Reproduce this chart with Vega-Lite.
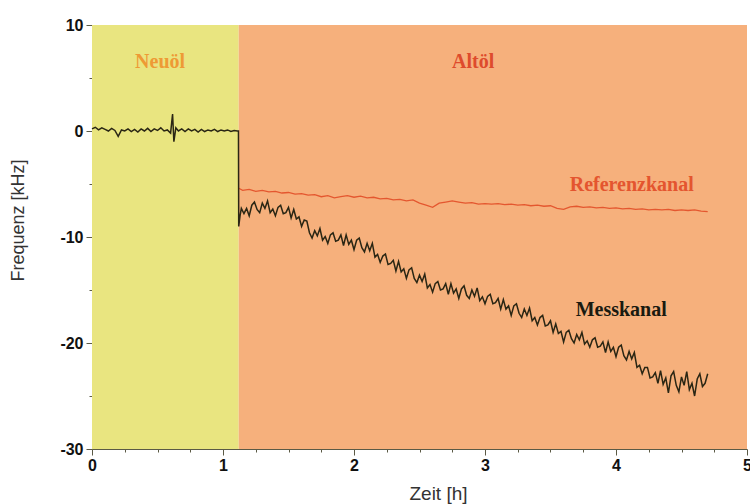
{
  "$schema": "https://vega.github.io/schema/vega-lite/v6.json",
  "width": 655,
  "height": 424,
  "autosize": {"type": "none"},
  "padding": {"left": 92, "top": 25, "right": 3, "bottom": 55},
  "background": "white",
  "config": {"view": {"stroke": null}},
  "datasets": {
    "phases": [
      {"start": 0, "end": 1.12, "phase": "Neuöl"},
      {"start": 1.12, "end": 5, "phase": "Altöl"}
    ],
    "mess": [
      {"t": 0, "f": 0.2}, {"t": 0.025, "f": 0.35}, {"t": 0.05, "f": 0.1}, {"t": 0.075, "f": 0.3}, {"t": 0.1, "f": 0.15},
      {"t": 0.125, "f": 0.0}, {"t": 0.15, "f": 0.25}, {"t": 0.175, "f": 0.05}, {"t": 0.2, "f": -0.5}, {"t": 0.225, "f": 0.1},
      {"t": 0.25, "f": 0.0}, {"t": 0.275, "f": 0.2}, {"t": 0.3, "f": -0.05}, {"t": 0.325, "f": 0.15}, {"t": 0.35, "f": -0.1},
      {"t": 0.375, "f": 0.2}, {"t": 0.4, "f": 0.0}, {"t": 0.425, "f": 0.25}, {"t": 0.45, "f": -0.05}, {"t": 0.475, "f": 0.2},
      {"t": 0.5, "f": 0.05}, {"t": 0.525, "f": 0.3}, {"t": 0.55, "f": 0.0}, {"t": 0.575, "f": 0.1}, {"t": 0.6, "f": -0.2},
      {"t": 0.615, "f": 1.6}, {"t": 0.625, "f": -1.0}, {"t": 0.64, "f": 0.3}, {"t": 0.66, "f": 0.0}, {"t": 0.685, "f": 0.2},
      {"t": 0.71, "f": -0.05}, {"t": 0.735, "f": 0.2}, {"t": 0.76, "f": 0.0}, {"t": 0.785, "f": 0.15}, {"t": 0.81, "f": -0.1},
      {"t": 0.835, "f": 0.15}, {"t": 0.86, "f": -0.05}, {"t": 0.885, "f": 0.1}, {"t": 0.91, "f": 0.0}, {"t": 0.935, "f": 0.15},
      {"t": 0.96, "f": -0.05}, {"t": 0.985, "f": 0.1}, {"t": 1.01, "f": 0.0}, {"t": 1.035, "f": 0.1}, {"t": 1.06, "f": -0.05},
      {"t": 1.085, "f": 0.05}, {"t": 1.11, "f": 0.0}, {"t": 1.118, "f": 0.0}, {"t": 1.12, "f": -9.0}, {"t": 1.13, "f": -8.0},
      {"t": 1.14, "f": -7.3}, {"t": 1.16, "f": -7.8}, {"t": 1.18, "f": -7.3}, {"t": 1.2, "f": -8.0}, {"t": 1.22, "f": -7.0},
      {"t": 1.24, "f": -6.7}, {"t": 1.26, "f": -7.4}, {"t": 1.28, "f": -7.7}, {"t": 1.3, "f": -6.8}, {"t": 1.32, "f": -7.3},
      {"t": 1.34, "f": -6.6}, {"t": 1.36, "f": -7.7}, {"t": 1.38, "f": -7.36}, {"t": 1.4, "f": -8.0}, {"t": 1.42, "f": -7.2},
      {"t": 1.44, "f": -7.0}, {"t": 1.46, "f": -7.8}, {"t": 1.48, "f": -7.7}, {"t": 1.5, "f": -7.2}, {"t": 1.52, "f": -8.2},
      {"t": 1.54, "f": -7.4}, {"t": 1.56, "f": -8.3}, {"t": 1.58, "f": -8.1}, {"t": 1.6, "f": -9.0}, {"t": 1.62, "f": -8.4},
      {"t": 1.64, "f": -8.5}, {"t": 1.66, "f": -9.6}, {"t": 1.68, "f": -10.1}, {"t": 1.7, "f": -9.4}, {"t": 1.72, "f": -9.9},
      {"t": 1.74, "f": -9.2}, {"t": 1.76, "f": -10.3}, {"t": 1.78, "f": -9.96}, {"t": 1.8, "f": -10.6}, {"t": 1.82, "f": -9.8},
      {"t": 1.84, "f": -9.6}, {"t": 1.86, "f": -10.4}, {"t": 1.88, "f": -10.3}, {"t": 1.9, "f": -9.8}, {"t": 1.92, "f": -10.8},
      {"t": 1.94, "f": -9.8}, {"t": 1.96, "f": -10.7}, {"t": 1.98, "f": -10.3}, {"t": 2.0, "f": -11.2}, {"t": 2.02, "f": -10.3},
      {"t": 2.04, "f": -10.1}, {"t": 2.06, "f": -11.0}, {"t": 2.08, "f": -11.4}, {"t": 2.1, "f": -10.6}, {"t": 2.12, "f": -11.3},
      {"t": 2.14, "f": -10.6}, {"t": 2.16, "f": -11.9}, {"t": 2.18, "f": -11.64}, {"t": 2.2, "f": -12.4}, {"t": 2.22, "f": -11.8},
      {"t": 2.24, "f": -11.6}, {"t": 2.26, "f": -12.6}, {"t": 2.28, "f": -12.5}, {"t": 2.3, "f": -12.2}, {"t": 2.32, "f": -13.2},
      {"t": 2.34, "f": -12.3}, {"t": 2.36, "f": -13.3}, {"t": 2.38, "f": -13.0}, {"t": 2.4, "f": -13.9}, {"t": 2.42, "f": -13.1},
      {"t": 2.44, "f": -12.9}, {"t": 2.46, "f": -13.9}, {"t": 2.48, "f": -14.3}, {"t": 2.5, "f": -13.6}, {"t": 2.52, "f": -14.2},
      {"t": 2.54, "f": -13.5}, {"t": 2.56, "f": -14.8}, {"t": 2.58, "f": -14.48}, {"t": 2.6, "f": -15.2}, {"t": 2.62, "f": -14.4},
      {"t": 2.64, "f": -14.2}, {"t": 2.66, "f": -15.0}, {"t": 2.68, "f": -14.9}, {"t": 2.7, "f": -14.4}, {"t": 2.72, "f": -15.4},
      {"t": 2.74, "f": -14.4}, {"t": 2.76, "f": -15.3}, {"t": 2.78, "f": -14.9}, {"t": 2.8, "f": -15.8}, {"t": 2.82, "f": -14.9},
      {"t": 2.84, "f": -14.6}, {"t": 2.86, "f": -15.5}, {"t": 2.88, "f": -15.8}, {"t": 2.9, "f": -15.0}, {"t": 2.92, "f": -15.6},
      {"t": 2.94, "f": -14.8}, {"t": 2.96, "f": -16.0}, {"t": 2.98, "f": -15.64}, {"t": 3.0, "f": -16.3}, {"t": 3.02, "f": -15.6},
      {"t": 3.04, "f": -15.4}, {"t": 3.06, "f": -16.3}, {"t": 3.08, "f": -16.2}, {"t": 3.1, "f": -15.8}, {"t": 3.12, "f": -16.8},
      {"t": 3.14, "f": -15.9}, {"t": 3.16, "f": -16.8}, {"t": 3.18, "f": -16.5}, {"t": 3.2, "f": -17.4}, {"t": 3.22, "f": -16.5},
      {"t": 3.24, "f": -16.3}, {"t": 3.26, "f": -17.2}, {"t": 3.28, "f": -17.6}, {"t": 3.3, "f": -16.8}, {"t": 3.32, "f": -17.4},
      {"t": 3.34, "f": -16.7}, {"t": 3.36, "f": -17.9}, {"t": 3.38, "f": -17.6}, {"t": 3.4, "f": -18.3}, {"t": 3.42, "f": -17.6},
      {"t": 3.44, "f": -17.4}, {"t": 3.46, "f": -18.4}, {"t": 3.48, "f": -18.3}, {"t": 3.5, "f": -17.9}, {"t": 3.52, "f": -19.0},
      {"t": 3.54, "f": -18.2}, {"t": 3.56, "f": -19.1}, {"t": 3.58, "f": -18.9}, {"t": 3.6, "f": -19.9}, {"t": 3.62, "f": -19.0},
      {"t": 3.64, "f": -18.8}, {"t": 3.66, "f": -19.6}, {"t": 3.68, "f": -20.0}, {"t": 3.7, "f": -19.2}, {"t": 3.72, "f": -19.7},
      {"t": 3.74, "f": -19.0}, {"t": 3.76, "f": -20.1}, {"t": 3.78, "f": -19.8}, {"t": 3.8, "f": -20.4}, {"t": 3.82, "f": -19.7},
      {"t": 3.84, "f": -19.5}, {"t": 3.86, "f": -20.4}, {"t": 3.88, "f": -20.3}, {"t": 3.9, "f": -19.9}, {"t": 3.92, "f": -20.9},
      {"t": 3.94, "f": -19.9}, {"t": 3.96, "f": -20.8}, {"t": 3.98, "f": -20.4}, {"t": 4.0, "f": -21.3}, {"t": 4.02, "f": -20.4},
      {"t": 4.04, "f": -20.2}, {"t": 4.06, "f": -21.2}, {"t": 4.08, "f": -21.6}, {"t": 4.1, "f": -20.8}, {"t": 4.12, "f": -21.5},
      {"t": 4.14, "f": -20.9}, {"t": 4.16, "f": -22.3}, {"t": 4.18, "f": -22.1}, {"t": 4.2, "f": -22.9}, {"t": 4.22, "f": -22.3},
      {"t": 4.24, "f": -22.3}, {"t": 4.26, "f": -23.3}, {"t": 4.28, "f": -23.2}, {"t": 4.3, "f": -22.8}, {"t": 4.32, "f": -23.8},
      {"t": 4.34, "f": -22.6}, {"t": 4.36, "f": -23.9}, {"t": 4.38, "f": -23.3}, {"t": 4.4, "f": -24.7}, {"t": 4.42, "f": -23.1},
      {"t": 4.44, "f": -22.7}, {"t": 4.46, "f": -24.0}, {"t": 4.48, "f": -24.6}, {"t": 4.5, "f": -23.2}, {"t": 4.52, "f": -24.0},
      {"t": 4.54, "f": -22.7}, {"t": 4.56, "f": -24.4}, {"t": 4.58, "f": -23.8}, {"t": 4.6, "f": -25.0}, {"t": 4.62, "f": -23.4},
      {"t": 4.64, "f": -22.9}, {"t": 4.66, "f": -24.1}, {"t": 4.68, "f": -23.8}, {"t": 4.7, "f": -22.9}
    ],
    "ref": [
      {"t": 1.12, "f": -5.4}, {"t": 1.15, "f": -5.6}, {"t": 1.2, "f": -5.5}, {"t": 1.25, "f": -5.7}, {"t": 1.3, "f": -5.6},
      {"t": 1.35, "f": -5.75}, {"t": 1.4, "f": -5.7}, {"t": 1.45, "f": -5.85}, {"t": 1.5, "f": -5.8}, {"t": 1.55, "f": -5.95},
      {"t": 1.6, "f": -5.9}, {"t": 1.65, "f": -6.05}, {"t": 1.7, "f": -6.0}, {"t": 1.75, "f": -6.2}, {"t": 1.8, "f": -6.1},
      {"t": 1.85, "f": -6.3}, {"t": 1.9, "f": -6.2}, {"t": 1.95, "f": -6.1}, {"t": 2.0, "f": -6.25}, {"t": 2.05, "f": -6.15},
      {"t": 2.1, "f": -6.3}, {"t": 2.15, "f": -6.25}, {"t": 2.2, "f": -6.4}, {"t": 2.25, "f": -6.35}, {"t": 2.3, "f": -6.5},
      {"t": 2.35, "f": -6.45}, {"t": 2.4, "f": -6.6}, {"t": 2.45, "f": -6.5}, {"t": 2.5, "f": -6.8}, {"t": 2.55, "f": -7.0},
      {"t": 2.6, "f": -7.2}, {"t": 2.65, "f": -6.8}, {"t": 2.7, "f": -6.7}, {"t": 2.75, "f": -6.6}, {"t": 2.8, "f": -6.7},
      {"t": 2.85, "f": -6.8}, {"t": 2.9, "f": -6.75}, {"t": 2.95, "f": -6.9}, {"t": 3.0, "f": -6.85}, {"t": 3.05, "f": -6.9},
      {"t": 3.1, "f": -6.85}, {"t": 3.15, "f": -6.95}, {"t": 3.2, "f": -6.9}, {"t": 3.25, "f": -7.0}, {"t": 3.3, "f": -6.95},
      {"t": 3.35, "f": -7.05}, {"t": 3.4, "f": -7.0}, {"t": 3.45, "f": -7.1}, {"t": 3.5, "f": -7.05}, {"t": 3.55, "f": -7.3},
      {"t": 3.6, "f": -7.4}, {"t": 3.65, "f": -7.15}, {"t": 3.7, "f": -7.1}, {"t": 3.75, "f": -7.2}, {"t": 3.8, "f": -7.15},
      {"t": 3.85, "f": -7.25}, {"t": 3.9, "f": -7.2}, {"t": 3.95, "f": -7.3}, {"t": 4.0, "f": -7.25}, {"t": 4.05, "f": -7.35},
      {"t": 4.1, "f": -7.3}, {"t": 4.15, "f": -7.4}, {"t": 4.2, "f": -7.35}, {"t": 4.25, "f": -7.45}, {"t": 4.3, "f": -7.4},
      {"t": 4.35, "f": -7.45}, {"t": 4.4, "f": -7.4}, {"t": 4.45, "f": -7.5}, {"t": 4.5, "f": -7.45}, {"t": 4.55, "f": -7.5},
      {"t": 4.6, "f": -7.45}, {"t": 4.65, "f": -7.55}, {"t": 4.7, "f": -7.6}
    ],
    "labels": [
      {"t": 0.52, "f": 6.5, "text": "Neuöl", "kind": "Neuöl"},
      {"t": 2.91, "f": 6.5, "text": "Altöl", "kind": "Altöl"},
      {"t": 4.12, "f": -5.1, "text": "Referenzkanal", "kind": "Referenzkanal"},
      {"t": 4.04, "f": -16.9, "text": "Messkanal", "kind": "Messkanal"}
    ]
  },
  "encoding": {
    "x": {
      "type": "quantitative",
      "scale": {"domain": [0, 5], "nice": false, "zero": false},
      "axis": {
        "title": "Zeit [h]",
        "values": [0, 0.25, 0.5, 0.75, 1, 1.25, 1.5, 1.75, 2, 2.25, 2.5, 2.75, 3, 3.25, 3.5, 3.75, 4, 4.25, 4.5, 4.75, 5],
        "labelExpr": "datum.value % 1 === 0 ? '' + datum.value : ''",
        "tickSize": {"condition": {"test": "datum.value % 1 === 0", "value": 6}, "value": 3},
        "grid": false,
        "domainColor": "#5b5a45",
        "tickColor": "#5b5a45",
        "labelFont": "Liberation Sans",
        "labelFontWeight": "bold",
        "labelFontSize": 16,
        "labelColor": "#111",
        "labelPadding": 2,
        "labelFlush": false,
        "labelOverlap": false,
        "titleFont": "Liberation Sans",
        "titleFontWeight": "normal",
        "titleFontSize": 19,
        "titleColor": "#333",
        "titleX": 346,
        "titleY": 44,
        "titleBaseline": "middle",
        "titleAlign": "center"
      }
    },
    "y": {
      "type": "quantitative",
      "scale": {"domain": [-30, 10], "nice": false, "zero": false},
      "axis": {
        "title": "Frequenz [kHz]",
        "values": [-30, -25, -20, -15, -10, -5, 0, 5, 10],
        "labelExpr": "datum.value % 10 === 0 ? '' + datum.value : ''",
        "tickSize": {"condition": {"test": "datum.value % 10 === 0", "value": 6}, "value": 3},
        "grid": false,
        "domainColor": "#5b5a45",
        "tickColor": "#5b5a45",
        "labelFont": "Liberation Sans",
        "labelFontWeight": "bold",
        "labelFontSize": 16,
        "labelColor": "#111",
        "labelPadding": 3,
        "labelFlush": false,
        "labelOverlap": false,
        "titleFont": "Liberation Sans",
        "titleFontWeight": "normal",
        "titleFontSize": 18,
        "titleColor": "#333",
        "titleAngle": -90,
        "titleX": -74,
        "titleY": 195,
        "titleBaseline": "middle",
        "titleAlign": "center"
      }
    }
  },
  "layer": [
    {
      "data": {"name": "phases"},
      "mark": {"type": "rect", "opacity": 1},
      "encoding": {
        "x": {"field": "start", "type": "quantitative"},
        "x2": {"field": "end"},
        "color": {
          "field": "phase",
          "type": "nominal",
          "scale": {"domain": ["Neuöl", "Altöl"], "range": ["#e9e580", "#f6b07c"]},
          "legend": null
        }
      }
    },
    {
      "data": {"name": "ref"},
      "mark": {"type": "line", "color": "#e4572f", "strokeWidth": 1.3, "interpolate": "linear"},
      "encoding": {
        "x": {"field": "t", "type": "quantitative"},
        "y": {"field": "f", "type": "quantitative"}
      }
    },
    {
      "data": {"name": "mess"},
      "mark": {"type": "line", "color": "#2a2614", "strokeWidth": 1.5, "interpolate": "linear"},
      "encoding": {
        "x": {"field": "t", "type": "quantitative"},
        "y": {"field": "f", "type": "quantitative"}
      }
    },
    {
      "data": {"name": "labels"},
      "mark": {"type": "text", "font": "Liberation Serif", "fontWeight": "bold", "fontSize": 20, "align": "center", "baseline": "middle"},
      "encoding": {
        "x": {"field": "t", "type": "quantitative"},
        "y": {"field": "f", "type": "quantitative"},
        "text": {"field": "text"},
        "color": {
          "field": "kind",
          "type": "nominal",
          "scale": {"domain": ["Neuöl", "Altöl", "Referenzkanal", "Messkanal"], "range": ["#ee9a35", "#de4b2c", "#e4552f", "#1a1a10"]},
          "legend": null
        }
      }
    }
  ],
  "resolve": {"scale": {"color": "independent"}}
}
